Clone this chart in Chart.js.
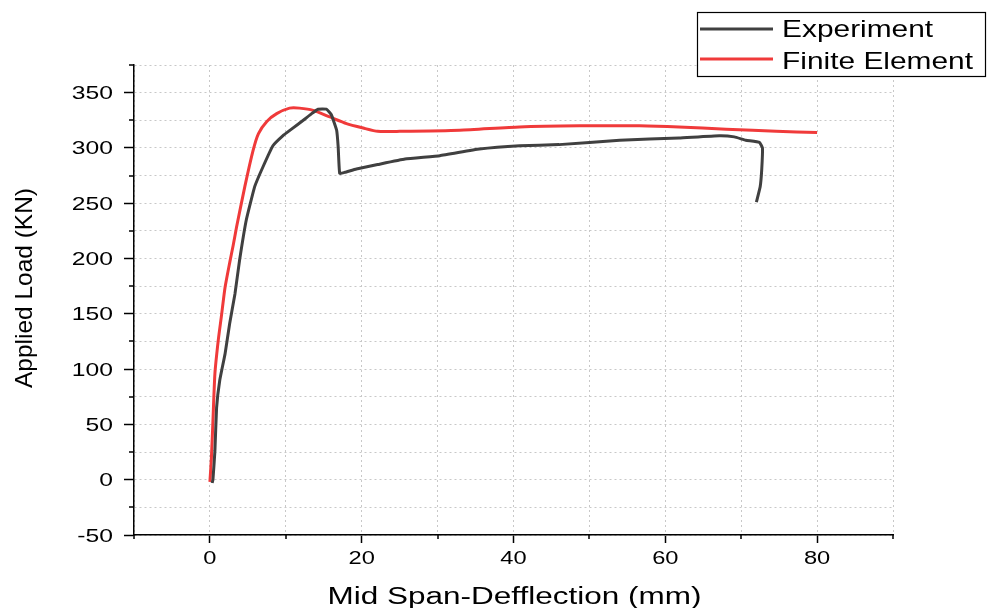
<!DOCTYPE html>
<html>
<head>
<meta charset="utf-8">
<script src="https://cdn.jsdelivr.net/npm/chart.js@4.4.1/dist/chart.umd.min.js"></script>
<style>
  body { margin: 0; background: #fff; }
  #wrap { width: 988px; height: 608px; }
</style>
</head>
<body>
<div id="wrap"><canvas id="loadChart" width="988" height="608"></canvas></div>
<script>
// Werte: Durchbiegung (mm) / Last (KN)
const expDefl = [0.3, 0.4, 0.66, 0.88, 1.3, 2.0, 2.6, 3.3, 3.9, 4.8, 5.9, 7.0, 8.3, 9.6, 10.75, 12.3, 13.4, 14.25, 15.35, 16.0, 16.7, 16.9, 17.1, 17.8, 19.3, 22.1, 25.7, 30.3, 35.5, 40.8, 46.0, 54.0, 61.8, 67.1, 69.1, 70.6, 72.4, 72.8, 72.7, 72.5, 72.0];
const expLoad = [-3, 0, 26, 65, 90, 114, 141, 168, 198, 235, 265, 283, 302, 311, 317, 325, 331, 335, 335, 330, 316, 301, 277, 278, 281, 285, 290, 293, 299, 302, 303, 307, 309, 311, 310, 307, 305, 300, 280, 265, 251];

const feDefl = [0.0, 0.2, 0.4, 0.66, 1.1, 1.5, 2.0, 2.63, 3.07, 3.5, 4.6, 5.7, 6.4, 7.5, 8.8, 10.5, 11.8, 13.6, 15.8, 18.0, 20.2, 22.1, 25.0, 32.9, 40.8, 48.7, 56.6, 61.8, 68.0, 71.5, 74.6, 80.0];
const feLoad = [-2, 20, 53, 96, 126, 147, 174, 197, 212, 228, 265, 298, 313, 324, 331, 336, 336, 334, 328, 322, 318, 315, 315, 316, 319, 320, 320, 319, 317, 316, 315, 314];

const seriesNames = ["Experiment", "Finite Element"];
const seriesColors = ["#404040", "#f03a3a"];

const xMin = -10, xMax = 90, xStep = 10, xLabelEvery = 20;
const yMin = -50, yMax = 375, yStep = 25, yLabelEvery = 50;
const xTitle = "Mid Span-Defflection (mm)";
const yTitle = "Applied Load (KN)";

const toPoints = (xs, ys) => xs.map((x, i) => ({ x: x, y: ys[i] }));

const FONT = "'Liberation Sans', Arial, sans-serif";

// Schrift im Original ist horizontal gestreckt -> selbst zeichnen
function wideText(ctx, txt, x, y, size, sx, align) {
  ctx.save();
  ctx.translate(x, y);
  ctx.scale(sx, 1);
  ctx.font = size + "px " + FONT;
  ctx.textAlign = align;
  ctx.textBaseline = "alphabetic";
  ctx.fillStyle = "#000";
  ctx.fillText(txt, 0, 0);
  ctx.restore();
}

const extras = {
  id: "extras",
  afterDraw(chart) {
    const ctx = chart.ctx;
    const xs = chart.scales.x, ys = chart.scales.y;
    ctx.save();

    // kurze Zwischenticks
    ctx.strokeStyle = "#000";
    ctx.lineWidth = 1.5;
    ctx.beginPath();
    xs.ticks.forEach(t => {
      if (t.value % xLabelEvery !== 0) {
        const px = Math.round(xs.getPixelForValue(t.value));
        ctx.moveTo(px, xs.top);
        ctx.lineTo(px, xs.top + 4);
      }
    });
    ys.ticks.forEach(t => {
      if (t.value % yLabelEvery !== 0) {
        const py = Math.round(ys.getPixelForValue(t.value));
        ctx.moveTo(ys.right, py);
        ctx.lineTo(ys.right - 5, py);
      }
    });
    ctx.stroke();

    // Tick-Beschriftungen
    xs.ticks.forEach(t => {
      if (t.value % xLabelEvery === 0) {
        wideText(ctx, String(t.value), xs.getPixelForValue(t.value), 564, 18.5, 1.28, "center");
      }
    });
    ys.ticks.forEach(t => {
      if (t.value % yLabelEvery === 0) {
        wideText(ctx, String(t.value), 113, ys.getPixelForValue(t.value) + 6.5, 18, 1.37, "right");
      }
    });

    // Achsentitel
    wideText(ctx, xTitle, (xs.left + xs.right) / 2 + 1, 604, 23.5, 1.34, "center");
    ctx.save();
    ctx.translate(32, (ys.top + ys.bottom) / 2 - 12);
    ctx.rotate(-Math.PI / 2);
    wideText(ctx, yTitle, 0, 0, 24, 1.02, "center");
    ctx.restore();

    // Legende
    const bx = 697, by = 12, bw = 288, bh = 64;
    ctx.fillStyle = "#fff";
    ctx.fillRect(bx, by, bw, bh);
    ctx.lineWidth = 1.2;
    ctx.strokeStyle = "#000";
    ctx.strokeRect(bx + 0.5, by + 0.5, bw, bh);
    chart.data.datasets.forEach((ds, i) => {
      const ly = by + 17 + i * 30;
      ctx.strokeStyle = ds.borderColor;
      ctx.lineWidth = 3;
      ctx.beginPath();
      ctx.moveTo(bx + 3, ly);
      ctx.lineTo(bx + 76, ly);
      ctx.stroke();
      wideText(ctx, ds.label, bx + 85, by + 25 + i * 32, 24.5, 1.22, "left");
    });
    ctx.restore();
  }
};

new Chart(document.getElementById("loadChart").getContext("2d"), {
  type: "scatter",
  data: {
    datasets: [
      {
        label: seriesNames[0],
        data: toPoints(expDefl, expLoad),
        borderColor: seriesColors[0],
        backgroundColor: seriesColors[0],
        borderWidth: 3,
        showLine: true,
        pointRadius: 0,
        tension: 0.1
      },
      {
        label: seriesNames[1],
        data: toPoints(feDefl, feLoad),
        borderColor: seriesColors[1],
        backgroundColor: seriesColors[1],
        borderWidth: 3,
        showLine: true,
        pointRadius: 0,
        tension: 0.2
      }
    ]
  },
  options: {
    responsive: false,
    animation: false,
    layout: { padding: { top: 65, right: 95, left: 0, bottom: 0 } },
    plugins: {
      legend: { display: false },
      tooltip: { enabled: false }
    },
    scales: {
      x: {
        type: "linear",
        min: xMin, max: xMax,
        afterFit: s => { s.height = 73; },
        ticks: { stepSize: xStep, display: false },
        grid: {
          color: "#c8c8c8",
          lineWidth: 1,
          tickLength: 8,
          tickWidth: 1.5,
          tickColor: c => (c.tick && c.tick.value % xLabelEvery === 0 ? "#000" : "rgba(0,0,0,0)")
        },
        border: { display: true, color: "#000", width: 1.5, dash: [2, 3] },
        title: { display: false }
      },
      y: {
        type: "linear",
        min: yMin, max: yMax,
        afterFit: s => { s.width = 134; },
        ticks: { stepSize: yStep, display: false },
        grid: {
          color: "#c8c8c8",
          lineWidth: 1,
          tickLength: 10,
          tickWidth: 1.5,
          tickColor: c => (c.tick && c.tick.value % yLabelEvery === 0 ? "#000" : "rgba(0,0,0,0)")
        },
        border: { display: true, color: "#000", width: 1.5, dash: [2, 3] },
        title: { display: false }
      }
    }
  },
  plugins: [extras]
});
</script>
</body>
</html>
